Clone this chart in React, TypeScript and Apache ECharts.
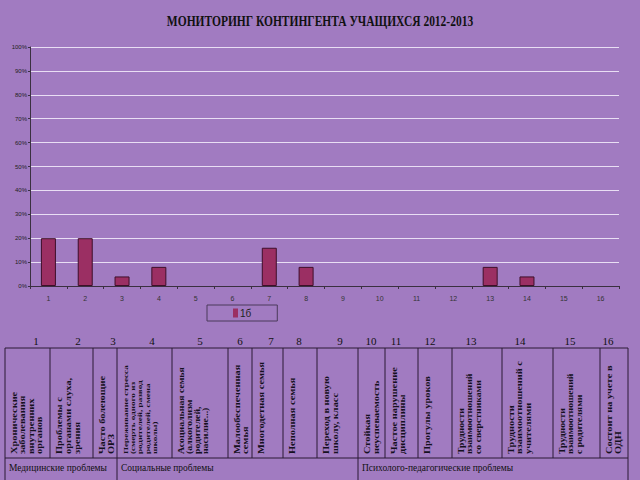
import React, { useEffect, useRef } from "react";
import * as echarts from "echarts";

const categories = ["1", "2", "3", "4", "5", "6", "7", "8", "9", "10", "11", "12", "13", "14", "15", "16"];
const values1b = [20, 20, 4, 8, 0, 0, 16, 8, 0, 0, 0, 0, 8, 4, 0, 0];
const seriesName = "1б";
const yTicks = [0, 10, 20, 30, 40, 50, 60, 70, 80, 90, 100];
const titleText = "МОНИТОРИНГ КОНТИНГЕНТА УЧАЩИХСЯ 2012-2013";

const columnHeaders = [
  "Хронические\nзаболевания\nвнутренних\nорганов",
  "Проблемы с\nорганами слуха,\nзрения",
  "Часто болеющие\nОРЗ",
  "Переживание стресса\n(смерть одного из\nродителей, развод\nродителей, смена\nшколы)",
  "Асоциальная семья\n(алкоголизм\nродителей,\nнасилие...)",
  "Малообеспеченная\nсемья",
  "Многодетная семья",
  "Неполная семья",
  "Переход в новую\nшколу, класс",
  "Стойкая\nнеуспеваемость",
  "Частое нарушение\nдисциплины",
  "Прогулы уроков",
  "Трудности\nвзаимоотношений\nсо сверстниками",
  "Трудности\nвзаимоотношений с\nучителями",
  "Трудности\nвзаимоотношений\nс родителями",
  "Состоит на учете в\nОДН",
];
const groupNames = ["Медицинские проблемы", "Социальные проблемы", "Психолого-педагогические проблемы"];

// layout (not data)
const colEdges = [5, 50, 93, 117, 172, 228, 252, 283, 317, 358, 385, 418, 452, 502, 553, 600, 628];
const numberX = [36, 78, 113, 152, 200, 240, 271, 299, 340, 371, 396, 430, 471, 520, 570, 608];
const headerFont = [8, 8, 8, 7, 7.5, 8, 8, 8, 8, 8, 8, 8, 7.5, 8, 7.5, 8];
const headerLine = [8.5, 9, 9, 7.3, 8, 8.5, 8.5, 8.5, 9, 9, 8.5, 8.5, 8.5, 8.5, 8.5, 9];
const groupEdges = [5, 117, 358, 628];
const tableTop = 348;
const headerBottom = 458;
const tableBottom = 486;

const BG = "#a17bc1";
const LINE = "#2a1a35";
const SERIF = "'Liberation Serif', 'DejaVu Serif', serif";

export default function App() {
  const ref = useRef<HTMLDivElement>(null);
  useEffect(() => {
    if (!ref.current) return;
    const chart = echarts.init(ref.current, null, { renderer: "svg" });

    const graphics: any[] = [];
    graphics.push({
      type: "text",
      x: 320,
      y: 22,
      scaleX: 0.82,
      style: {
        text: titleText,
        fontSize: 14,
        fontWeight: "bold",
        fontFamily: SERIF,
        fill: "#111",
        align: "center",
        verticalAlign: "middle",
      },
    });
    categories.forEach((c, i) => {
      graphics.push({
        type: "text",
        x: numberX[i],
        y: 341,
        style: { text: c, fontSize: 11, fontFamily: SERIF, fill: "#111", align: "center", verticalAlign: "middle" },
      });
    });
    graphics.push({
      type: "line",
      shape: { x1: colEdges[0], y1: tableTop, x2: colEdges[colEdges.length - 1], y2: tableTop },
      style: { stroke: LINE, lineWidth: 1 },
    });
    graphics.push({
      type: "line",
      shape: { x1: colEdges[0], y1: headerBottom, x2: colEdges[colEdges.length - 1], y2: headerBottom },
      style: { stroke: LINE, lineWidth: 1 },
    });
    colEdges.forEach((x) => {
      graphics.push({
        type: "line",
        shape: { x1: x, y1: tableTop, x2: x, y2: headerBottom },
        style: { stroke: LINE, lineWidth: 1 },
      });
    });
    groupEdges.forEach((x) => {
      graphics.push({
        type: "line",
        shape: { x1: x, y1: headerBottom, x2: x, y2: tableBottom },
        style: { stroke: LINE, lineWidth: 1 },
      });
    });
    groupNames.forEach((g, i) => {
      graphics.push({
        type: "text",
        x: groupEdges[i] + 4,
        y: 467,
        scaleX: 0.9,
        style: { text: g, fontSize: 10.5, fontFamily: SERIF, fill: "#111", align: "left", verticalAlign: "middle" },
      });
    });
    columnHeaders.forEach((h, i) => {
      graphics.push({
        type: "text",
        x: colEdges[i] + 5,
        y: headerBottom - 4,
        rotation: Math.PI / 2,
        scaleX: 1.3,
        style: {
          text: h,
          fontSize: headerFont[i],
          lineHeight: headerLine[i],
          fontWeight: "bold",
          fontFamily: SERIF,
          fill: "#151020",
          align: "left",
          verticalAlign: "top",
        },
      });
    });

    chart.setOption({
      animation: false,
      backgroundColor: BG,
      textStyle: { fontFamily: "'Liberation Sans', Arial, sans-serif" },
      grid: { left: 30, right: 21, top: 47, bottom: 194, containLabel: false },
      legend: {
        left: 207,
        top: 305,
        data: [seriesName],
        itemWidth: 5,
        itemHeight: 9,
        itemGap: 4,
        padding: [3, 26],
        borderColor: "#4a3a5a",
        borderWidth: 1,
        itemStyle: { borderWidth: 0 },
        textStyle: { fontSize: 10, color: "#222", padding: [0, 0, 0, -3] },
        icon: "rect",
      },
      xAxis: {
        type: "category",
        data: categories,
        axisLine: { lineStyle: { color: "#3a3040", width: 1 } },
        axisTick: { show: true, length: 3, lineStyle: { color: "#3a3040" } },
        axisLabel: { fontSize: 7, color: "#333", margin: 9 },
        splitLine: { show: false },
      },
      yAxis: {
        type: "value",
        min: yTicks[0],
        max: yTicks[yTicks.length - 1],
        interval: 10,
        axisLine: { show: true, lineStyle: { color: "#3a3040", width: 1 } },
        axisTick: { show: true, length: 2, lineStyle: { color: "#3a3040" } },
        axisLabel: { fontSize: 6, color: "#222", margin: 3, formatter: "{value}%" },
        splitLine: { show: true, lineStyle: { color: "#e9def4", width: 1 } },
      },
      series: [
        {
          name: seriesName,
          type: "bar",
          data: values1b.map((v) => (v === 0 ? { value: v, itemStyle: { borderWidth: 0 } } : v)),
          barWidth: 15,
          itemStyle: { color: "#9b2f63", borderColor: "#3e0f2a", borderWidth: 1 },
        },
      ],
      graphic: graphics,
    });
    return () => chart.dispose();
  }, []);
  return (
    <div
      ref={ref}
      style={{ position: "fixed", left: 0, top: 0, width: 640, height: 480, background: BG }}
    />
  );
}
